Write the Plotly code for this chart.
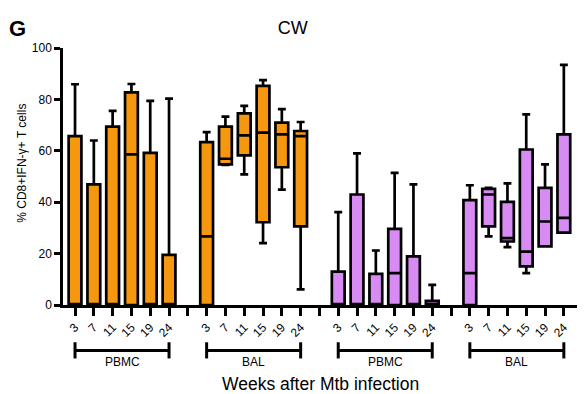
import plotly.graph_objects as go

weeks = ["3", "7", "11", "15", "19", "24"]
groups = ["PBMC", "BAL", "PBMC", "BAL"]

# orange PBMC
o_pbmc_q1 = [0, 0, 0, 0, 0, 0]
o_pbmc_med = [0, 0, 0, 58.6, 0, 0]
o_pbmc_q3 = [65.7, 46.9, 69.4, 82.7, 59.2, 19.5]
o_pbmc_lo = [0, 0, 0, 0, 0, 0]
o_pbmc_hi = [85.9, 64.0, 75.5, 86.0, 79.4, 80.3]

# orange BAL
o_bal_q1 = [0, 54.7, 58.2, 32.2, 53.6, 30.6]
o_bal_med = [26.7, 56.9, 66.0, 67.1, 66.4, 65.7]
o_bal_q3 = [63.4, 69.4, 74.6, 85.3, 71.0, 67.7]
o_bal_lo = [0, 54.5, 50.8, 24.1, 44.9, 6.1]
o_bal_hi = [67.3, 73.3, 77.5, 87.5, 76.2, 71.2]

# purple PBMC
p_pbmc_q1 = [0, 0, 0, 0, 0, 0]
p_pbmc_med = [0, 0, 0, 12.4, 0, 0]
p_pbmc_q3 = [13.0, 43.0, 12.1, 29.6, 18.9, 1.6]
p_pbmc_lo = [0, 0, 0, 0, 0, 0]
p_pbmc_hi = [36.1, 59.0, 21.2, 51.4, 46.9, 7.8]

# purple BAL
p_bal_q1 = [0, 30.6, 24.7, 15.0, 22.8, 28.2]
p_bal_med = [12.4, 43.0, 26.0, 20.8, 32.5, 33.9]
p_bal_q3 = [40.8, 45.2, 40.1, 60.5, 45.6, 66.4]
p_bal_lo = [0, 26.7, 22.5, 12.4, 22.8, 28.2]
p_bal_hi = [46.6, 45.6, 47.3, 74.2, 54.7, 93.4]

ORANGE = "#F5980F"
PURPLE = "#D88BF2"

series = [
    (o_pbmc_q1, o_pbmc_med, o_pbmc_q3, o_pbmc_lo, o_pbmc_hi, ORANGE),
    (o_bal_q1, o_bal_med, o_bal_q3, o_bal_lo, o_bal_hi, ORANGE),
    (p_pbmc_q1, p_pbmc_med, p_pbmc_q3, p_pbmc_lo, p_pbmc_hi, PURPLE),
    (p_bal_q1, p_bal_med, p_bal_q3, p_bal_lo, p_bal_hi, PURPLE),
]

step = len(weeks) + 1
fig = go.Figure()
for g, (q1, med, q3, lo, hi, col) in enumerate(series):
    xs = [g * step + i for i in range(len(weeks))]
    fig.add_trace(go.Box(
        x=xs, q1=q1, median=med, q3=q3, lowerfence=lo, upperfence=hi,
        fillcolor=col, line=dict(color="black", width=2.7),
        width=0.68, whiskerwidth=0.62, showlegend=False, hoverinfo="skip",
    ))

tickvals = list(range(len(groups) * step - 1))
ticktext = []
for t in tickvals:
    i = t % step
    ticktext.append(weeks[i] if i < len(weeks) else "")

shapes = []
annotations = []
cap_lo, cap_hi, br_y = -0.208, -0.145, -0.177
for g, name in enumerate(groups):
    x0 = g * step
    x1 = g * step + len(weeks) - 1
    ln = dict(color="black", width=3)
    shapes.append(dict(type="line", xref="x", yref="paper", x0=x0, x1=x1, y0=br_y, y1=br_y, line=ln))
    shapes.append(dict(type="line", xref="x", yref="paper", x0=x0, x1=x0, y0=cap_lo, y1=cap_hi, line=ln))
    shapes.append(dict(type="line", xref="x", yref="paper", x0=x1, x1=x1, y0=cap_lo, y1=cap_hi, line=ln))
    annotations.append(dict(x=(x0 + x1) / 2, xref="x", y=-0.22, yref="paper", text=name,
                            showarrow=False, yanchor="middle", font=dict(size=12, color="black")))

annotations.append(dict(x=0.5, xref="paper", y=-0.307, yref="paper", text="Weeks after Mtb infection",
                        showarrow=False, yanchor="middle", font=dict(size=17.5, color="black")))
annotations.append(dict(x=-0.109, xref="paper", y=1.075, yref="paper", text="<b>G</b>",
                        showarrow=False, xanchor="left", yanchor="middle", font=dict(size=22, color="black")))
annotations.append(dict(x=-0.08, xref="paper", y=0.553, yref="paper", text="% CD8+IFN-γ+ T cells",
                        textangle=-90, showarrow=False, xanchor="center", yanchor="middle",
                        font=dict(size=12, color="black")))

fig.update_layout(
    width=588, height=394,
    margin=dict(l=63, r=11, t=48, b=89),
    paper_bgcolor="white", plot_bgcolor="white",
    font=dict(family="Liberation Sans, Arial, sans-serif", color="black"),
    title=dict(text="CW", x=0.498, xanchor="center", y=0.93, yanchor="middle",
               font=dict(size=18, color="black")),
    shapes=shapes, annotations=annotations,
    boxmode="overlay",
)
fig.update_xaxes(
    range=[-0.64, 26.7], tickvals=tickvals, ticktext=ticktext, tickangle=-45,
    showline=True, linecolor="black", linewidth=2.5, ticks="outside", ticklen=8,
    tickwidth=2.5, tickcolor="black", showgrid=False, zeroline=False,
    tickfont=dict(size=12, color="black"),
)
fig.update_yaxes(
    range=[0, 100], tickvals=[0, 20, 40, 60, 80, 100],
    showline=True, linecolor="black", linewidth=2.5, ticks="outside", ticklen=6,
    tickwidth=2.5, tickcolor="black", showgrid=False, zeroline=False,
    tickfont=dict(size=12, color="black"),
)

fig.write_html("out.html")
